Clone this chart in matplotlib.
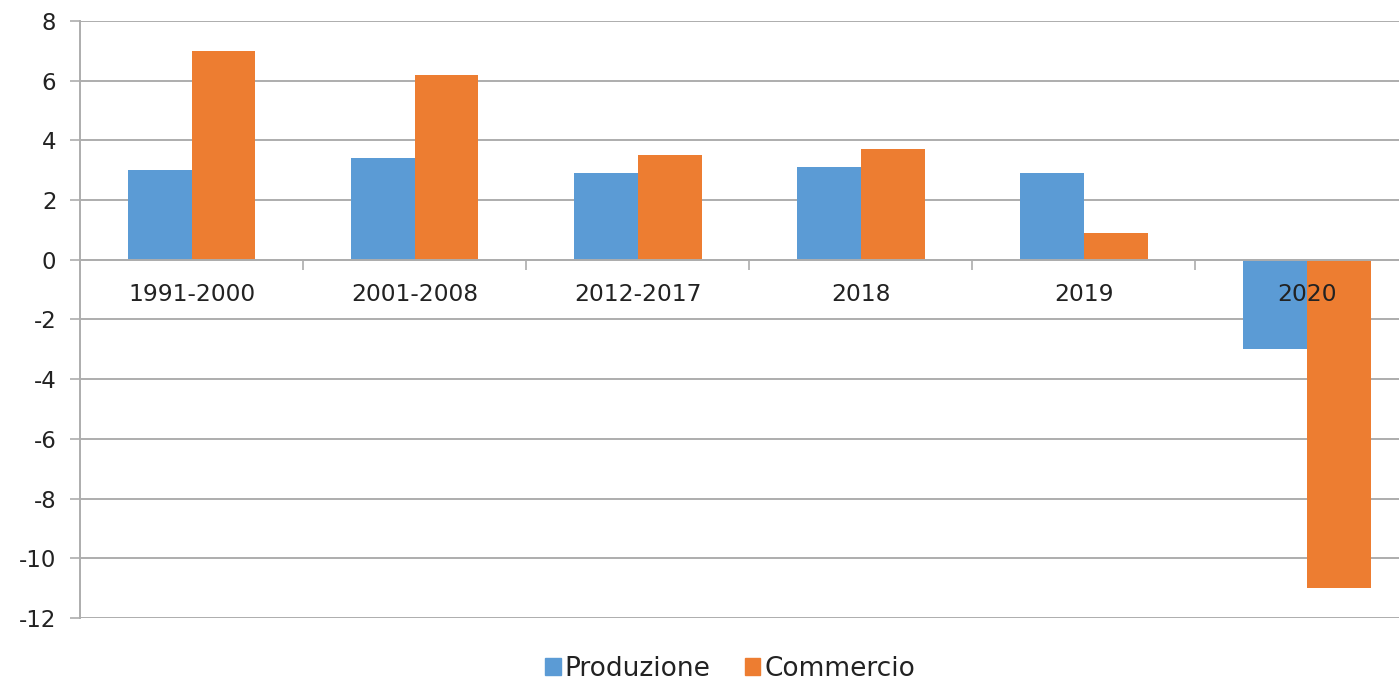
import matplotlib
matplotlib.use('Agg')
import matplotlib.pyplot as plt
from matplotlib.patches import Patch
import numpy as np

categorie = ['1991-2000', '2001-2008', '2012-2017', '2018', '2019', '2020']
produzione = [3.0, 3.4, 2.9, 3.1, 2.9, -3.0]
commercio = [7.0, 6.2, 3.5, 3.7, 0.9, -11.0]
yticks = [8, 6, 4, 2, 0, -2, -4, -6, -8, -10, -12]

blu = '#5B9BD5'
arancio = '#ED7D31'
grigio = '#ADADAD'

plt.rcParams['font.family'] = ['DejaVu Sans']

fig = plt.figure(figsize=(13.99, 6.84), dpi=100)
# l'asse a destra esce leggermente dal bordo (come nell'originale)
ax = fig.add_axes([80 / 1399, 1 - 618 / 684, 1338.6 / 1399, 597 / 684])

x = np.arange(len(categorie))
w = 0.286
ax.bar(x - w / 2, produzione, w, color=blu, zorder=2)
ax.bar(x + w / 2, commercio, w, color=arancio, zorder=2)

ax.set_xlim(-0.5, len(categorie) - 0.5)
ax.set_ylim(-12, 8)
ax.set_yticks(yticks)
ax.set_yticklabels([str(v) for v in yticks], fontsize=16.5)
ax.yaxis.grid(True, color=grigio, linewidth=1.4, zorder=0)
ax.set_axisbelow(True)

# asse delle categorie sullo zero
for s in ['top', 'right']:
    ax.spines[s].set_visible(False)
ax.spines['left'].set_color(grigio)
ax.spines['left'].set_linewidth(1.4)
ax.spines['bottom'].set_position(('data', 0))
ax.spines['bottom'].set_color(grigio)
ax.spines['bottom'].set_linewidth(1.4)
ax.set_xticks(np.arange(len(categorie) + 1) - 0.5)
ax.set_xticklabels([])
ax.tick_params(axis='x', length=7, width=1.2, color=grigio, direction='out')
ax.tick_params(axis='y', length=7, width=1.2, color=grigio, pad=10, labelcolor='#222222')

for i, c in enumerate(categorie):
    ax.annotate(c, (i, 0), xytext=(0, -17), textcoords='offset points',
                ha='center', va='top', fontsize=16.8, color='#222222', zorder=5)

handles = [Patch(color=blu, label='Produzione'), Patch(color=arancio, label='Commercio')]
fig.legend(handles=handles, loc='center', bbox_to_anchor=(730 / 1399, 1 - 669 / 684),
           ncol=2, frameon=False, fontsize=19, handlelength=0.6, handleheight=0.6,
           handletextpad=0.15, columnspacing=1.3, labelcolor='#222222')

fig.savefig('out.png', dpi=100)
